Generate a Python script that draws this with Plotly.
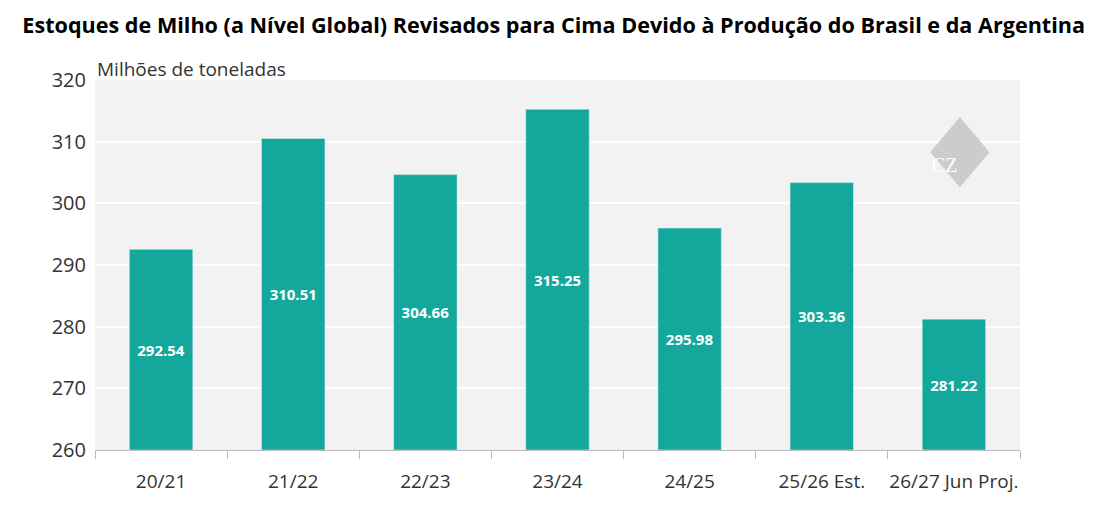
import plotly.graph_objects as go

safras = ["20/21", "21/22", "22/23", "23/24", "24/25", "25/26 Est.", "26/27 Jun Proj."]
estoques = [292.54, 310.51, 304.66, 315.25, 295.98, 303.36, 281.22]
base = 260

fig = go.Figure(go.Bar(
    x=safras,
    y=[v - base for v in estoques],
    base=base,
    text=[f"<b>{v:.2f}</b>" for v in estoques],
    textposition="inside",
    insidetextanchor="middle",
    textfont=dict(color="white", size=15, family="Open Sans"),
    marker_color="#14a89c",
    width=0.48,
))

fig.update_layout(
    width=1098, height=511,
    margin=dict(l=87, r=86, t=72, b=69, autoexpand=False),
    paper_bgcolor="white", plot_bgcolor="#f2f2f2",
    font=dict(family="Open Sans", color="#333"),
    showlegend=False,
    title=dict(text="<b>Estoques de Milho (a Nível Global) Revisados para Cima Devido à Produção do Brasil e da Argentina</b>",
               x=0.497, xref="container", xanchor="center", y=0.98, font=dict(size=21.6, color="black")),
    annotations=[
        dict(text="Milhões de toneladas", xref="paper", yref="paper", x=0, y=0.99,
             xanchor="left", yanchor="bottom", showarrow=False, font=dict(size=19, color="#333")),
        dict(text="CZ", xref="paper", yref="paper", x=0.935, y=0.805, showarrow=False,
             font=dict(size=20, color="white", family="Liberation Serif")),
    ],
    shapes=[dict(type="path", xref="paper", yref="paper",
                 path="M 0.935 0.9 L 0.967 0.805 L 0.935 0.71 L 0.903 0.805 Z",
                 fillcolor="#cccccc", line=dict(width=0))],
)
fig.update_yaxes(range=[260, 320], dtick=10, gridcolor="white", gridwidth=2, ticklabelstandoff=8,
                 tickfont=dict(size=20), zeroline=False, automargin=False)
fig.update_xaxes(tickson="boundaries", ticks="outside", ticklen=8, tickcolor="#bbb", tickangle=0,
                 ticklabelstandoff=14, showline=True, linecolor="#bbb", tickfont=dict(size=19),
                 automargin=False)

fig.write_html("out.html")
